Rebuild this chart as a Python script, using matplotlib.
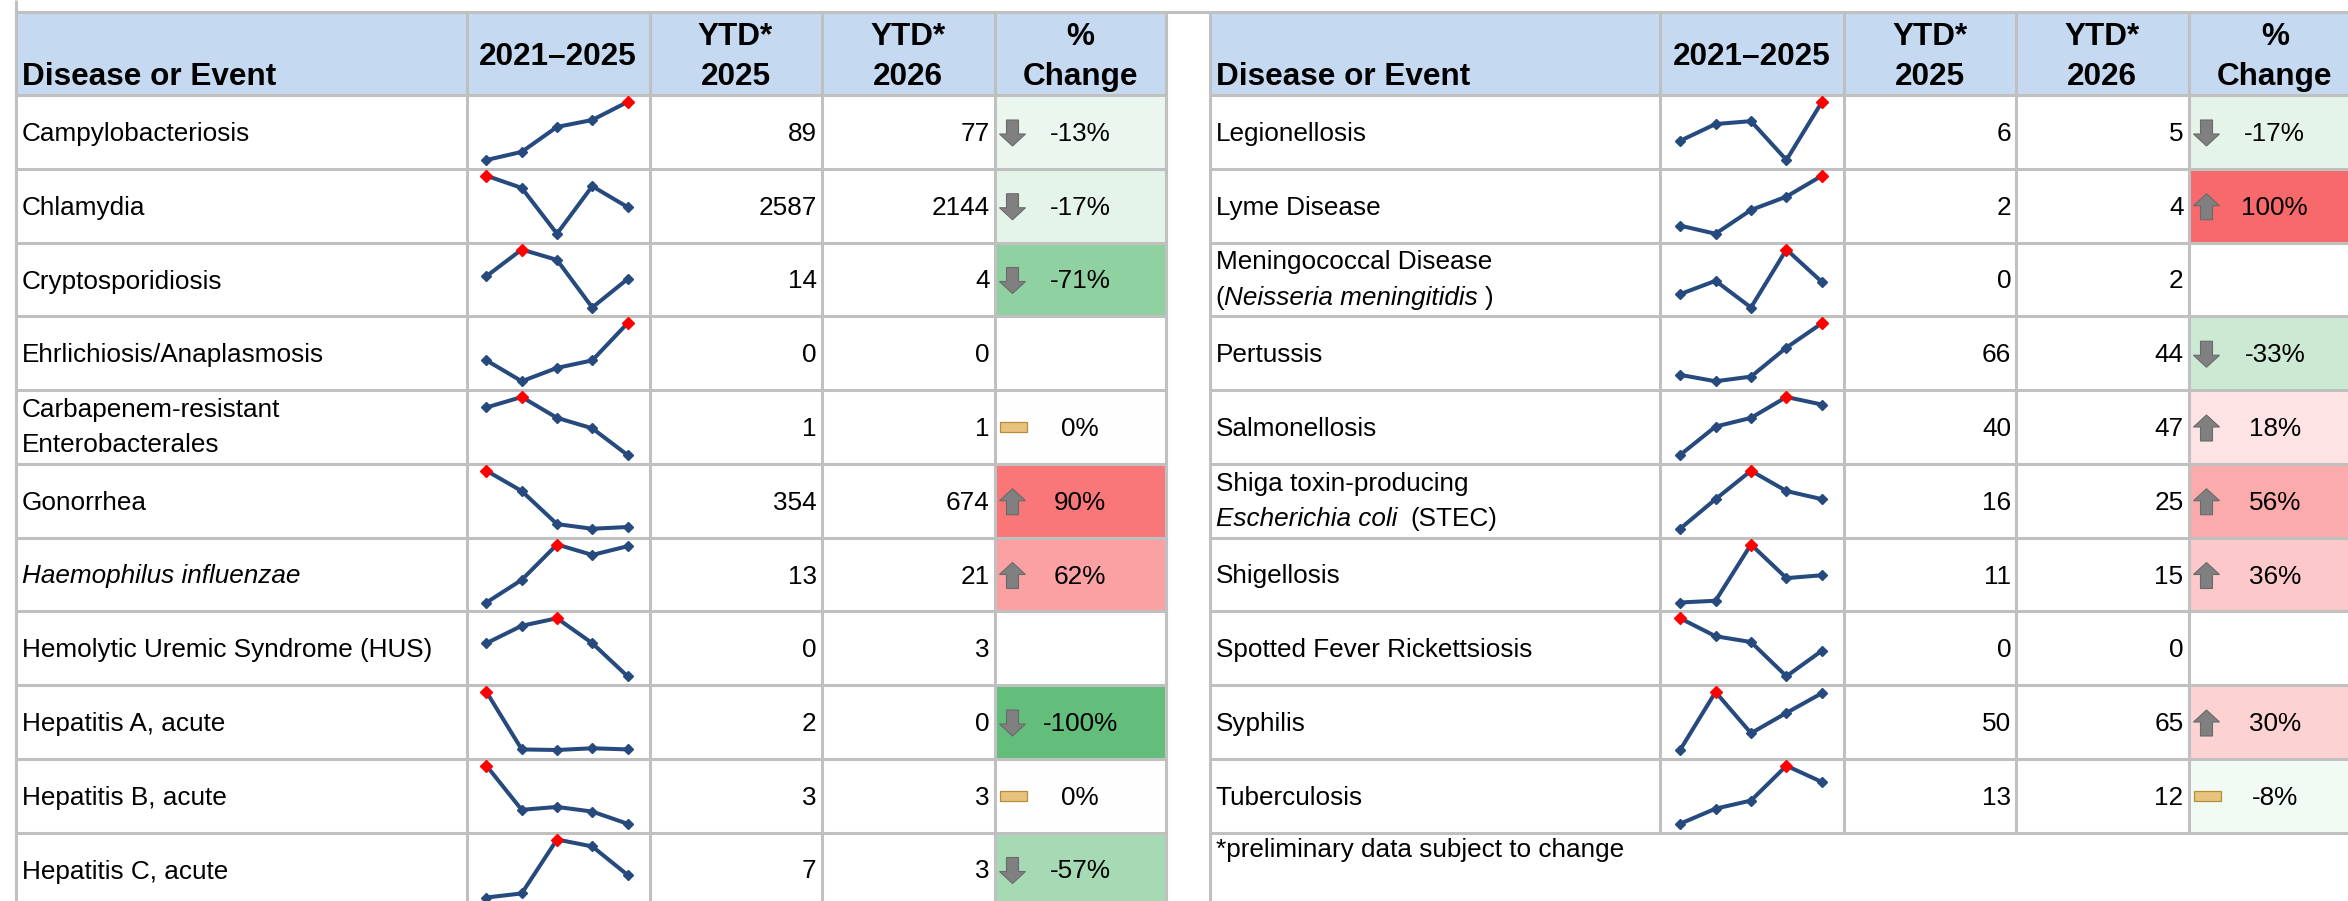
import matplotlib
matplotlib.use('Agg')
import matplotlib.pyplot as plt
from matplotlib.patches import Rectangle, Polygon
from matplotlib.colors import LinearSegmentedColormap, Normalize

plt.rcParams['font.family'] = ['Liberation Sans', 'DejaVu Sans']

# ---------------- data ----------------
years = [2021, 2022, 2023, 2024, 2025]

left_names = [
    [("Campylobacteriosis", "normal")],
    [("Chlamydia", "normal")],
    [("Cryptosporidiosis", "normal")],
    [("Ehrlichiosis/Anaplasmosis", "normal")],
    [("Carbapenem-resistant", "normal")],
    [("Gonorrhea", "normal")],
    [("Haemophilus influenzae", "italic")],
    [("Hemolytic Uremic Syndrome (HUS)", "normal")],
    [("Hepatitis A, acute", "normal")],
    [("Hepatitis B, acute", "normal")],
    [("Hepatitis C, acute", "normal")],
]
left_second_line = {4: [("Enterobacterales", "normal")]}
left_ytd2025 = [89, 2587, 14, 0, 1, 354, 13, 0, 2, 3, 7]
left_ytd2026 = [77, 2144, 4, 0, 1, 674, 21, 3, 0, 3, 3]
left_pct = [-13, -17, -71, None, 0, 90, 62, None, -100, 0, -57]
# relative trend heights 2021-2025 (sparkline)
left_trend = [
    [0, 14, 57, 69, 100],
    [100, 79, 0, 82, 46],
    [54, 100, 82, 0, 49],
    [36, 0, 23, 36, 100],
    [82, 100, 64, 46, 0],
    [100, 65, 8, 0, 3],
    [0, 39, 100, 82, 97],
    [57, 87, 100, 57, 0],
    [100, 1, 0, 3, 1],
    [100, 24, 29, 21, 0],
    [0, 7, 100, 88, 39],
]

right_names = [
    [("Legionellosis", "normal")],
    [("Lyme Disease", "normal")],
    [("Meningococcal Disease", "normal")],
    [("Pertussis", "normal")],
    [("Salmonellosis", "normal")],
    [("Shiga toxin-producing", "normal")],
    [("Shigellosis", "normal")],
    [("Spotted Fever Rickettsiosis", "normal")],
    [("Syphilis", "normal")],
    [("Tuberculosis", "normal")],
]
right_second_line = {
    2: [("(", "normal", 0), ("Neisseria meningitidis", "italic", 7), (")", "normal", 0)],
    5: [("Escherichia coli", "italic", 14), ("(STEC)", "normal", 0)],
}
right_ytd2025 = [6, 2, 0, 66, 40, 16, 11, 0, 50, 13]
right_ytd2026 = [5, 4, 2, 44, 47, 25, 15, 0, 65, 12]
right_pct = [-17, 100, None, -33, 18, 56, 36, None, 30, -8]
right_trend = [
    [33, 62, 67, 0, 100],
    [14, 0, 41, 64, 100],
    [23, 46, 0, 100, 44],
    [11, 0, 8, 58, 100],
    [0, 49, 64, 100, 87],
    [0, 51, 100, 65, 51],
    [0, 3, 100, 42, 47],
    [100, 69, 59, 0, 44],
    [0, 100, 29, 64, 98],
    [0, 26, 40, 100, 72],
]

header_name = "Disease or Event"
header_trend = "2021\u20132025"
header_ytd = [("YTD*", "2025"), ("YTD*", "2026"), ("%", "Change")]
footnote = "*preliminary data subject to change"

# ---------------- layout ----------------
W, H = 2348, 901
fig = plt.figure(figsize=(W / 100, H / 100), dpi=100)
ax = fig.add_axes([0, 0, 1, 1])
ax.set_xlim(0, W)
ax.set_ylim(H, 0)
ax.axis('off')
renderer = fig.canvas.get_renderer()

GRID = '#c0c0c0'
HEAD = '#c5d9f1'
LINE = '#264a7e'
LW = 2.2
TOP = 12
ROW0 = 95
RH = 73.75
FS = 18.8
HFS = 22.7

left_cols = [15.5, 466.5, 649.5, 821.5, 994.5, 1166]
right_cols = [1209.5, 1660, 1844, 2016, 2188.5, 2361]

cmap = LinearSegmentedColormap.from_list('pct', ['#63BE7B', '#FFFFFF', '#F8696B'])
norm = Normalize(-100, 100)


def row_top(k):
    return ROW0 + RH * k


def draw_segments(x, y, segs, size):
    for seg in segs:
        txt, style = seg[0], seg[1]
        gap = seg[2] if len(seg) > 2 else 0
        t = ax.text(x, y, txt, fontsize=size, style=style, va='baseline', ha='left',
                    color='black', zorder=5)
        bb = t.get_window_extent(renderer)
        x = bb.x1 + gap


def arrow(x0, top, up):
    w, h = 26, 26
    sx0, sx1 = x0 + 7, x0 + 19
    if up:
        pts = [(sx0, top + h), (sx1, top + h), (sx1, top + 12), (x0 + w, top + 12),
               (x0 + w / 2, top), (x0, top + 12), (sx0, top + 12)]
    else:
        pts = [(sx0, top), (sx1, top), (sx1, top + 14), (x0 + w, top + 14),
               (x0 + w / 2, top + h), (x0, top + 14), (sx0, top + 14)]
    ax.add_patch(Polygon(pts, closed=True, facecolor='#808080', edgecolor='#6a6a6a',
                         lw=0.8, zorder=4))


def flatbar(x0, top):
    ax.add_patch(Rectangle((x0, top + 32), 27, 10, facecolor='#e9c27d',
                           edgecolor='#b48c3c', lw=0.9, zorder=4))


def sparkline(cols, k, vals):
    x0, x1 = cols[1], cols[2]
    y0, y1 = row_top(k), row_top(k + 1)
    sax = fig.add_axes([x0 / W, 1 - y1 / H, (x1 - x0) / W, (y1 - y0) / H])
    sax.axis('off')
    step = 35.3
    sax.set_xlim(-20 / step, 4 + 22 / step)
    lo, hi = min(vals), max(vals)
    r = hi - lo if hi > lo else 1
    span = RH - 7 - 8.75
    sax.set_ylim(lo - 8.75 / span * r, hi + 7 / span * r)
    xs = list(range(len(vals)))
    sax.plot(xs, vals, color=LINE, lw=2.9, solid_joinstyle='round', clip_on=False)
    sax.plot(xs, vals, 'D', color=LINE, ms=5.5, clip_on=False)
    imax = vals.index(hi)
    sax.plot([imax], [hi], 'D', color='#ff0000', ms=6.5, clip_on=False, zorder=5)


def draw_table(cols, names, second, y25, y26, pct, trend, nrows_lines):
    # header fill
    ax.add_patch(Rectangle((cols[0], TOP), cols[-1] - cols[0], ROW0 - TOP,
                           facecolor=HEAD, edgecolor='none', zorder=1))
    # header texts
    ax.text(cols[0] + 7, 85, header_name, fontsize=HFS, fontweight='bold',
            va='baseline', ha='left', zorder=5)
    ax.text((cols[1] + cols[2]) / 2, 65, header_trend, fontsize=HFS, fontweight='bold',
            va='baseline', ha='center', zorder=5)
    for j, (a, b) in enumerate(header_ytd):
        cx = (cols[2 + j] + cols[3 + j]) / 2
        ax.text(cx, 45, a, fontsize=HFS, fontweight='bold', va='baseline', ha='center', zorder=5)
        ax.text(cx, 85, b, fontsize=HFS, fontweight='bold', va='baseline', ha='center', zorder=5)
    for k in range(len(names)):
        top = row_top(k)
        # pct cell fill
        v = pct[k]
        if v is not None:
            ax.add_patch(Rectangle((cols[4], top), cols[5] - cols[4], RH,
                                   facecolor=cmap(norm(v)), edgecolor='none', zorder=1))
        # name
        if k in second:
            draw_segments(cols[0] + 6, top + 27, names[k], FS)
            draw_segments(cols[0] + 6, top + 62, second[k], FS)
        else:
            draw_segments(cols[0] + 6, top + 46, names[k], FS)
        # numbers
        ax.text(cols[3] - 5, top + 46, str(y25[k]), fontsize=FS, ha='right', va='baseline', zorder=5)
        ax.text(cols[4] - 5, top + 46, str(y26[k]), fontsize=FS, ha='right', va='baseline', zorder=5)
        if v is not None:
            ax.text((cols[4] + cols[5]) / 2, top + 46, f"{v}%", fontsize=FS,
                    ha='center', va='baseline', zorder=5)
            if v >= 10:
                arrow(cols[4] + 5, top + 25, True)
            elif v <= -10:
                arrow(cols[4] + 5, top + 25, False)
            else:
                flatbar(cols[4] + 5, top)
        sparkline(cols, k, trend[k])
    # grid lines
    bottom = row_top(nrows_lines)
    for k in range(nrows_lines + 1):
        y = row_top(k)
        ax.plot([cols[0], cols[-1]], [y, y], color=GRID, lw=LW, zorder=3,
                solid_capstyle='butt')
    for c in cols[1:]:
        ax.plot([c, c], [TOP, bottom], color=GRID, lw=LW, zorder=3, solid_capstyle='butt')


draw_table(left_cols, left_names, left_second_line, left_ytd2025, left_ytd2026,
           left_pct, left_trend, 11)
draw_table(right_cols, right_names, right_second_line, right_ytd2025, right_ytd2026,
           right_pct, right_trend, 10)

# outer lines
ax.plot([left_cols[0], W], [TOP, TOP], color=GRID, lw=LW, zorder=3, solid_capstyle='butt')
ax.plot([left_cols[0], left_cols[0]], [0, H], color=GRID, lw=LW, zorder=3, solid_capstyle='butt')
ax.plot([right_cols[0], right_cols[0]], [TOP, H], color=GRID, lw=LW, zorder=3, solid_capstyle='butt')
ax.plot([left_cols[-1], left_cols[-1]], [TOP, H], color=GRID, lw=LW, zorder=3, solid_capstyle='butt')

# footnote
ax.text(right_cols[0] + 7, row_top(10) + 24, footnote, fontsize=FS, ha='left',
        va='baseline', zorder=5)

fig.savefig('out.png', dpi=100)
